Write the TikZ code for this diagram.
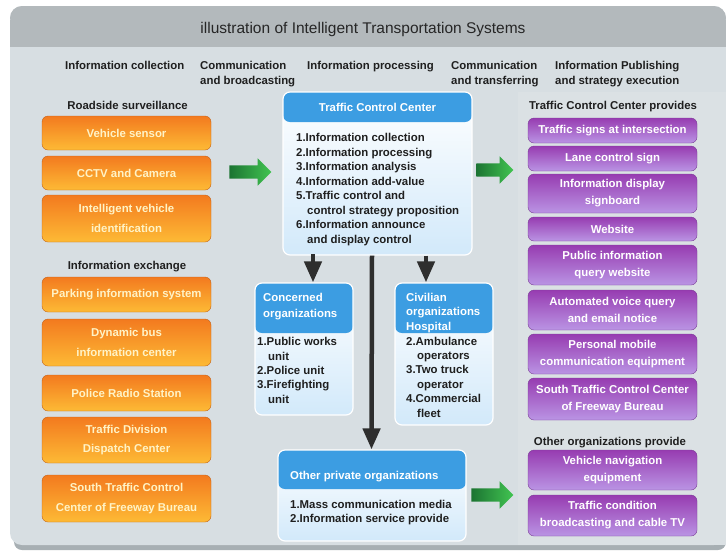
\documentclass[tikz,border=0pt]{standalone}
\usepackage{fontspec}
\setmainfont{Liberation Sans}
\usetikzlibrary{shapes.arrows,arrows.meta}

\definecolor{panelbg}{HTML}{D7DEE2}
\definecolor{panelrt}{HTML}{DBE1E4}
\definecolor{panelsh}{HTML}{A7AFB3}
\definecolor{titlebg}{HTML}{B3B9BC}
\definecolor{orgtop}{HTML}{F37A1F}
\definecolor{orgbot}{HTML}{FDBA35}
\definecolor{orgline}{HTML}{C2621B}
\definecolor{orgtext}{HTML}{FFF3C6}
\definecolor{purtop}{HTML}{973CB1}
\definecolor{purbot}{HTML}{BA94E4}
\definecolor{purline}{HTML}{7A3C96}
\definecolor{hdblue}{HTML}{3C9DE2}
\definecolor{bodybot}{HTML}{D2E9FA}
\definecolor{grndark}{HTML}{1C7432}
\definecolor{grnlite}{HTML}{41C451}
\definecolor{arrgray}{HTML}{2E2E2E}

\begin{document}
\begin{tikzpicture}[x=1pt,y=-1pt,
    txt/.style={font=\bfseries\fontsize{11.4}{15}\selectfont, inner sep=0pt, text=black!88},
    orgbox/.style={draw=orgline, rounded corners=6pt, top color=orgtop, bottom color=orgbot,
        minimum width=169pt, minimum height=#1, text=orgtext, align=center, inner sep=0pt,
        font=\bfseries\fontsize{11.4}{19.5}\selectfont},
    purbox/.style={draw=purline, rounded corners=6pt, top color=purtop, bottom color=purbot,
        minimum width=169pt, minimum height=#1, text=white, align=center, inner sep=0pt,
        font=\bfseries\fontsize{11.4}{17}\selectfont},
    bluebox/.style={draw=white, line width=1.2pt, rounded corners=7pt, top color=white,
        bottom color=bodybot,
        path picture={\fill[hdblue] (path picture bounding box.north west)
            rectangle ([yshift=-#1]path picture bounding box.north east);}},
    hdtxt/.style={txt, text=white, align=left, anchor=base west,
        font=\bfseries\fontsize{11.4}{15}\selectfont},
    bodytxt/.style={txt, align=left, anchor=base west,
        font=\bfseries\fontsize{11.4}{14.5}\selectfont},
    grnarrow/.style={single arrow, draw=none, left color=grndark, right color=grnlite,
        inner sep=6.5pt, single arrow head extend=7pt, minimum height=#1},
    darr/.style={draw=arrgray, line width=4.5pt, -{Triangle[width=17pt,length=21pt]}}]

    \useasboundingbox (0,0) rectangle (726,550);
    \fill[white] (0,0) rectangle (726,550);
    \fill[panelsh, rounded corners=8pt] (14,530) rectangle (726,550);
    \fill[panelbg, rounded corners=12pt] (10,6) rectangle (726,545);
    \fill[panelrt] (518,92) rectangle (726,545);
    \fill[titlebg, rounded corners=12pt] (10,6) rectangle (726,30);
    \fill[titlebg] (10,20) rectangle (726,47);

    \node[font=\fontsize{15.5}{18}\selectfont, text=black!85, inner sep=0pt] (title)
        at (363,29) {illustration of Intelligent Transportation Systems};

    \node[txt, anchor=base west] (colA) at (65,69) {Information collection};
    \node[txt, anchor=base west, align=left] (colB) at (200,84) {Communication\\and broadcasting};
    \node[txt, anchor=base west] (colC) at (307,69) {Information processing};
    \node[txt, anchor=base west, align=left] (colD) at (451,84) {Communication\\and transferring};
    \node[txt, anchor=base west, align=left] (colE) at (555,84) {Information Publishing\\and strategy execution};

    \node[txt, anchor=base] (roadside) at (127.5,109) {Roadside surveillance};
    \node[orgbox=34pt] (sensor) at (126.5,133) {Vehicle sensor};
    \node[orgbox=34pt] (cctv) at (126.5,173) {CCTV and Camera};
    \node[orgbox=47pt] (ivi) at (126.5,218.5) {Intelligent vehicle\\identification};
    \node[txt, anchor=base] (exchange) at (127,269) {Information exchange};
    \node[orgbox=35pt] (parking) at (126.5,294.5) {Parking information system};
    \node[orgbox=47pt] (bus) at (126.5,342.5) {Dynamic bus\\information center};
    \node[orgbox=36pt] (radio) at (126.5,393) {Police Radio Station};
    \node[orgbox=46pt] (dispatch) at (126.5,440) {Traffic Division\\Dispatch Center};
    \node[orgbox=47pt] (southL) at (126.5,498.5) {South Traffic Control\\Center of Freeway Bureau};

    \node[bluebox=30pt, minimum width=189pt, minimum height=163pt] (tcc) at (377.5,173.5) {};
    \node[hdtxt, anchor=base] (tcchd) at (377.5,111) {Traffic Control Center};
    \node[bodytxt] (tcclist) at (296,243) {1.Information collection\\2.Information processing\\3.Information analysis\\4.Information add-value\\5.Traffic control and\\\hspace{11pt}control strategy proposition\\6.Information announce\\\hspace{11pt}and display control};

    \node[bluebox=50pt, minimum width=98pt, minimum height=132pt] (cons) at (304,349) {};
    \node[hdtxt, font=\bfseries\fontsize{11.4}{16}\selectfont] (conshd) at (263,317) {Concerned\\organizations};
    \node[bodytxt, font=\bfseries\fontsize{11.4}{14.3}\selectfont] (conslist) at (257,403) {1.Public works\\\hspace{11pt}unit\\2.Police unit\\3.Firefighting\\\hspace{11pt}unit};

    \node[bluebox=50pt, minimum width=98pt, minimum height=142pt] (civ) at (444,354) {};
    \node[hdtxt, font=\bfseries\fontsize{11.4}{14.5}\selectfont] (civhd) at (406,330) {Civilian\\organizations\\Hospital};
    \node[bodytxt, font=\bfseries\fontsize{11.4}{14.4}\selectfont] (civlist) at (406,417) {2.Ambulance\\\hspace{11pt}operators\\3.Two truck\\\hspace{11pt}operator\\4.Commercial\\\hspace{11pt}fleet};

    \node[bluebox=39pt, minimum width=188pt, minimum height=91pt] (other) at (372,495.5) {};
    \node[hdtxt] (otherhd) at (290,479) {Other private organizations};
    \node[bodytxt] (otherlist) at (290,522.5) {1.Mass communication media\\2.Information service provide};

    \node[txt, anchor=base] (tccprov) at (613,109) {Traffic Control Center provides};
    \node[purbox=25pt] (signs) at (612.5,130.5) {Traffic signs at intersection};
    \node[purbox=25pt] (lane) at (612.5,158.5) {Lane control sign};
    \node[purbox=39pt] (display) at (612.5,193.5) {Information display\\signboard};
    \node[purbox=24pt] (web) at (612.5,229) {Website};
    \node[purbox=40pt] (query) at (612.5,265) {Public information\\query website};
    \node[purbox=40pt] (voice) at (612.5,310) {Automated voice query\\and email notice};
    \node[purbox=40pt] (mobile) at (612.5,354) {Personal mobile\\communication equipment};
    \node[purbox=42pt] (southR) at (612.5,399) {South Traffic Control Center\\of Freeway Bureau};
    \node[txt, anchor=base] (otherprov) at (610,445) {Other organizations provide};
    \node[purbox=40pt] (navi) at (612.5,470) {Vehicle navigation\\equipment};
    \node[purbox=41pt] (tv) at (612.5,515.5) {Traffic condition\\broadcasting and cable TV};

    \node[grnarrow=42pt] (g1) at (247,172) {};
    \node[grnarrow=37pt] (g2) at (491.5,170) {};
    \node[grnarrow=42pt] (g3) at (489,495) {};

    \draw[darr] (cons.north -| 313,0) ++(0,-28) -- (cons.north -| 313,0);
    \draw[darr] (tcc.south -| 426,0) -- (civ.north -| 426,0);
    \draw[darr] (tcc.south) ++(-5.5,0) -- ([xshift=-0.5pt]other.north);
\end{tikzpicture}
\end{document}
